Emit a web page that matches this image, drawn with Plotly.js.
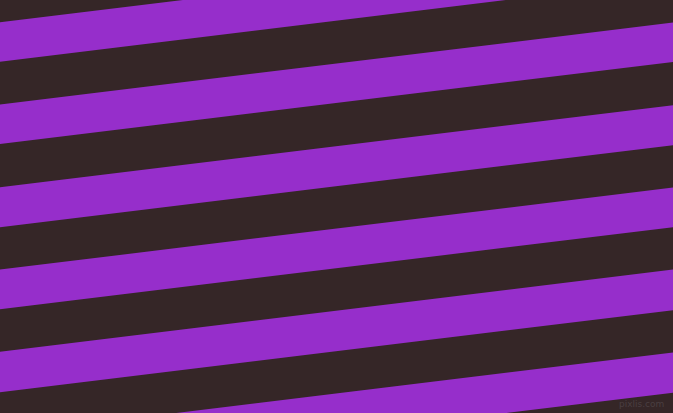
<!DOCTYPE html>
<html>
<head>
<meta charset="utf-8">
<script src="https://cdn.plot.ly/plotly-3.0.1.min.js"></script>
<style>html,body{margin:0;padding:0;background:#352627;}#chart{width:673px;height:413px;}</style>
</head>
<body>
<div id="chart"></div>
<script>
// Purple stripe edges read at the left border (x = 0), in pixels from the top
const stripeTopLeft = [22.3, 104.6, 187.3, 269.6, 351.7, 434.5];
const stripeBottomLeft = [61.7, 144.0, 227.3, 309.3, 392.3, 474.8];
// Rise of every stripe edge across the full width
const stripeRise = 82.1;
const canvasWidth = 673;
const canvasHeight = 413;
const stripeColor = '#962ecb';
const backColor = '#352627';
const watermark = 'pixlis.com';

const traces = stripeTopLeft.map((t, i) => {
  const b = stripeBottomLeft[i];
  return {
    type: 'scatter',
    mode: 'lines',
    x: [0, canvasWidth, canvasWidth, 0, 0],
    y: [t, t - stripeRise, b - stripeRise, b, t],
    fill: 'toself',
    fillcolor: stripeColor,
    line: {width: 0, color: stripeColor},
    hoverinfo: 'skip',
    showlegend: false
  };
});

const layout = {
  width: canvasWidth,
  height: canvasHeight,
  margin: {l: 0, r: 0, t: 0, b: 0, pad: 0},
  paper_bgcolor: backColor,
  plot_bgcolor: backColor,
  xaxis: {range: [0, canvasWidth], visible: false, fixedrange: true},
  yaxis: {range: [canvasHeight, 0], visible: false, fixedrange: true},
  showlegend: false,
  annotations: [{
    text: watermark,
    xref: 'paper', yref: 'paper',
    x: 0.99, y: 0.005,
    xanchor: 'right', yanchor: 'bottom',
    showarrow: false,
    font: {family: 'DejaVu Sans, sans-serif', size: 9, color: '#4a3f41'}
  }]
};

Plotly.newPlot('chart', traces, layout, {staticPlot: true, displayModeBar: false});
</script>
</body>
</html>
